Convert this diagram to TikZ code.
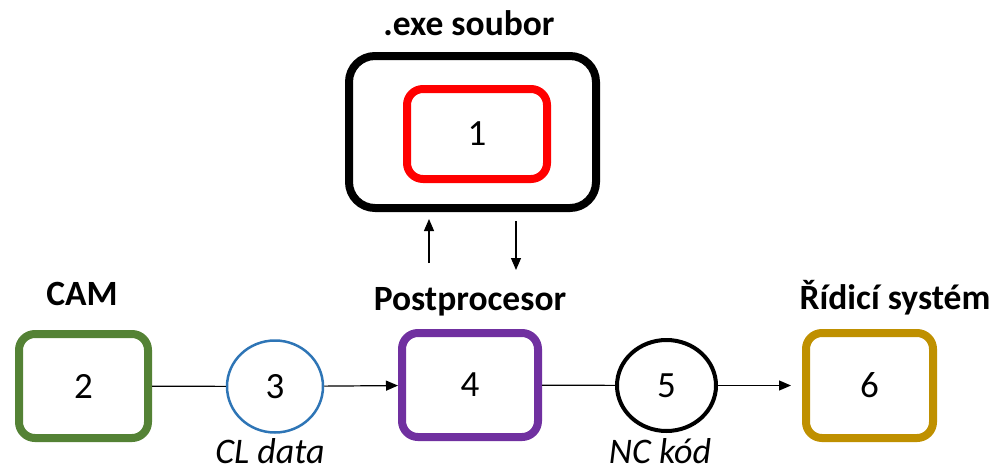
\documentclass[tikz,border=0pt]{standalone}
\usepackage{fontspec}
\setmainfont{Carlito}
\usetikzlibrary{arrows.meta,shapes.geometric}
\definecolor{camgreen}{HTML}{548235}
\definecolor{clblue}{HTML}{2E75B6}
\definecolor{postviolet}{HTML}{7030A0}
\definecolor{ctrlgold}{HTML}{BF9000}
\definecolor{exered}{HTML}{FF0000}
\tikzset{
  stage/.style={draw, rounded corners=16pt, line width=8pt, inner sep=0pt,
                font=\fontsize{37}{42}\selectfont},
  datum/.style={ellipse, draw, inner sep=0pt, font=\fontsize{37}{42}\selectfont},
  heading/.style={font=\fontsize{35.5}{40}\selectfont\bfseries},
  caption/.style={font=\fontsize{36}{40}\selectfont\itshape, inner sep=0pt, anchor=base},
  link/.style={line width=1.2pt},
  flow/.style={-{Triangle[length=12pt,width=10pt]}, line width=1.2pt},
}

\begin{document}
\begin{tikzpicture}[x=1pt,y=-1pt]
  \useasboundingbox (0,0) rectangle (999,472);
  % executable with its inner part
  \node[stage, rounded corners=26pt, minimum width=247pt, minimum height=152pt] (exe) at (472.5,132) {};
  \node[stage, draw=exered, minimum width=140pt, minimum height=90pt] (inner) at (477,134) {1};
  \node[heading] (exetitle) at (469,23) {.exe soubor};
  % chain
  \node[stage, draw=camgreen, minimum width=129pt, minimum height=104pt] (cam) at (83.5,386) {2};
  \node[datum, draw=clblue, line width=2.5pt, minimum width=96pt, minimum height=92pt] (cldata) at (275,386.5) {3};
  \node[stage, draw=postviolet, minimum width=136pt, minimum height=104pt] (post) at (470,385) {4};
  \node[datum, line width=4pt, minimum width=99pt, minimum height=91pt] (nccode) at (666.5,385.5) {5};
  \node[stage, draw=ctrlgold, minimum width=127pt, minimum height=105pt] (control) at (869.5,385.5) {6};
  \node[heading] (camtitle) at (82,294) {CAM};
  \node[heading] (posttitle) at (470,302) {Postprocesor};
  \node[heading] (controltitle) at (895,298) {Řídicí systém};
  \node[caption] (cltext) at (270,463) {CL data};
  \node[caption] (nctext) at (660,463) {NC kód};
  \draw[link] (cam) -- (cldata);
  \draw[flow] (cldata) -- (post);
  \draw[link] (post) -- (nccode);
  \draw[flow, shorten >=11pt] (nccode) -- (control);
  % exchange with the .exe file
  \coordinate (upfoot) at (429,263);
  \coordinate (downtip) at (516,270);
  \draw[flow] (upfoot) -- ([yshift=-7pt]upfoot |- exe.south);
  \draw[flow] ([yshift=-9pt]downtip |- exe.south) -- (downtip);
\end{tikzpicture}
\end{document}
